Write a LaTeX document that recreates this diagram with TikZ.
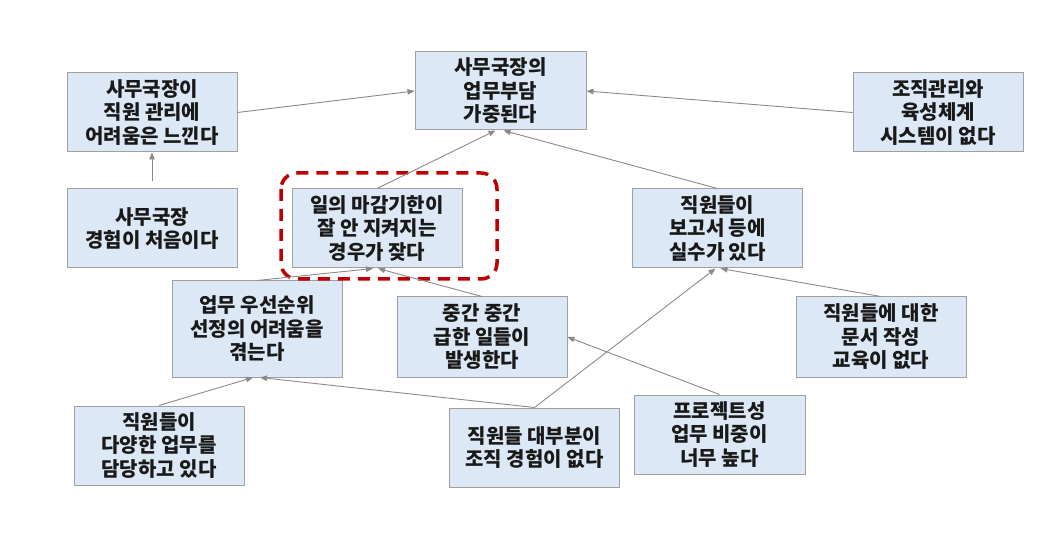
\documentclass[tikz,border=0pt]{standalone}
\usepackage{fontspec}
\setmainfont{Noto Sans CJK KR}
\usetikzlibrary{arrows.meta}
\definecolor{boxfill}{HTML}{DCE8F5}
\definecolor{boxline}{HTML}{A0A0A0}
\definecolor{arrowgray}{HTML}{8A8A8A}
\definecolor{dashred}{HTML}{C00000}
\tikzset{
  box/.style={draw=boxline, line width=1pt, fill=boxfill, minimum width=170pt, minimum height=79pt,
    align=center, inner sep=0pt, font=\fontsize{20}{23.5}\selectfont\bfseries, text=black!90},
  link/.style={draw=arrowgray, line width=0.9pt, -{Triangle[length=7pt,width=5.5pt]}},
  focus/.style={draw=dashred, line width=3.5pt, dash pattern=on 12pt off 8pt, rounded corners=16pt}
}
\begin{document}
\begin{tikzpicture}[x=1pt,y=-1pt]
\useasboundingbox (0,0) rectangle (1055,537);
\node[box] (A) at (152,112.5) {사무국장이\\직원 관리에\\어려움은 느낀다};
\node[box, minimum width=171pt, minimum height=78pt] (B) at (500.5,91) {사무국장의\\업무부담\\가중된다};
\node[box] (C) at (152,228.5) {사무국장\\경험이 처음이다};
\node[box] (D) at (377,228.5) {일의 마감기한이\\잘 안 지켜지는\\경우가 잦다};
\node[box] (E) at (938,112.5) {조직관리와\\육성체계\\시스템이 없다};
\node[box] (F) at (717.5,228.5) {직원들이\\보고서 등에\\실수가 있다};
\node[box, minimum height=96pt] (G) at (257,329) {업무 우선순위\\선정의 어려움을\\겪는다};
\node[box, minimum height=80pt] (H) at (482,337) {중간 중간\\급한 일들이\\발생한다};
\node[box] (I) at (159,445.5) {직원들이\\다양한 업무를\\담당하고 있다};
\node[box] (J) at (534.5,447.5) {직원들 대부분이\\조직 경험이 없다};
\node[box, minimum height=80pt] (K) at (881,337) {직원들에 대한\\문서 작성\\교육이 없다};
\node[box, minimum width=171pt] (L) at (719.5,434.5) {프로젝트성\\업무 비중이\\너무 높다};
\draw[focus] (281,173) rectangle (497,279);
\draw[link] (A.east) -- (B.west);
\draw[link, shorten <=7pt] (C.north) -- (A.south);
\draw[link] (D.north) -- ([xshift=-5pt]B.south);
\draw[link] (F.north) -- ([xshift=3pt]B.south);
\draw[link] (E.west) -- (B.east);
\draw[link] (G.north) -- ([xshift=-4pt]D.south);
\draw[link] (H.north) -- ([xshift=1pt]D.south);
\draw[link] (I.north) -- ([xshift=-4pt]G.south);
\draw[link] (J.north) -- ([xshift=3pt]G.south);
\draw[link] (J.north) -- ([xshift=-2pt]F.south);
\draw[link] (K.north) -- ([xshift=3pt]F.south);
\draw[link] (L.north) -- (H.east);
\end{tikzpicture}
\end{document}
